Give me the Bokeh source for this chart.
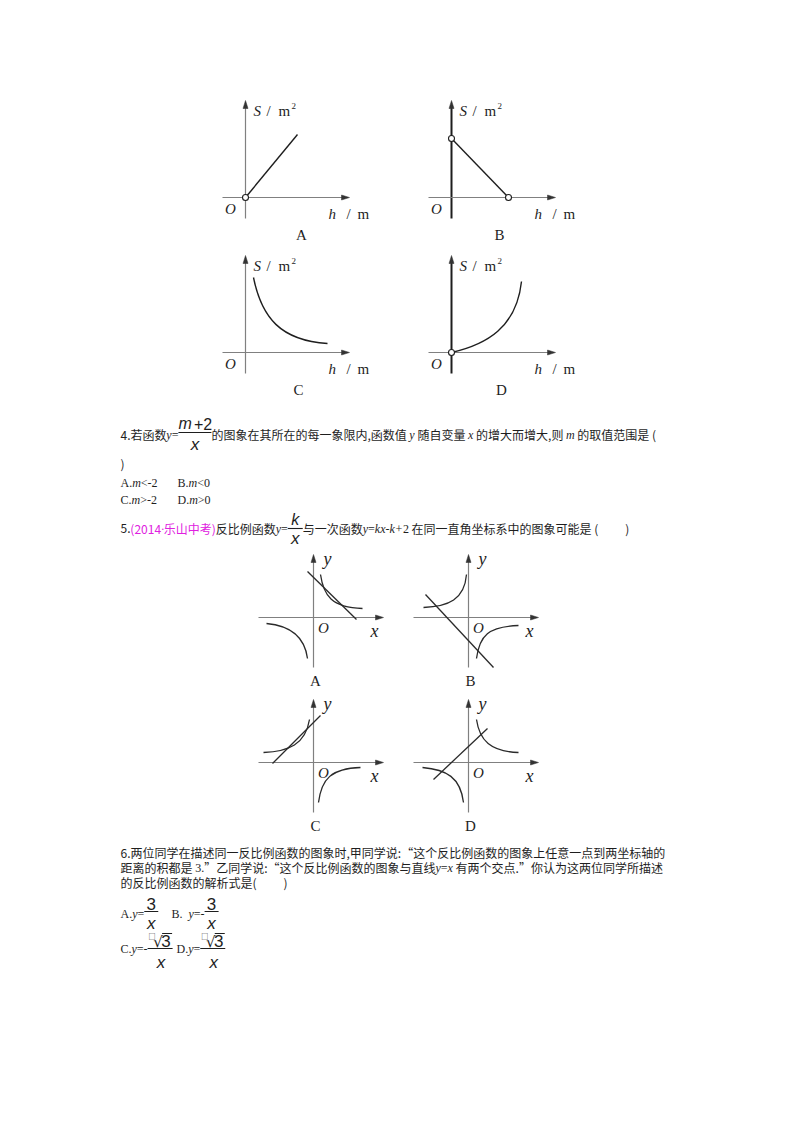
from bokeh.plotting import figure
from bokeh.models import ColumnDataSource, Range1d
from bokeh.embed import file_html
from bokeh.resources import INLINE

# Question 3: four small S/m^2 - h/m sketches
q3_letters = ["A", "B", "C", "D"]
q3_origin_x = [245, 451, 245, 451]
q3_origin_y = [197, 197, 352, 352]
q3_letter_dx = [56, 48, 53, 50]
q3_bold_y = [False, True, False, True]
q3A_line_x = [0, 52]
q3A_line_y = [0, 63]
q3A_open_x = [0]
q3A_open_y = [0]
q3B_line_x = [0, 57]
q3B_line_y = [59, 0]
q3B_open_x = [0, 57]
q3B_open_y = [59, 0]
q3C_curve = [(8, 75), (16, 35), (35, 12), (82, 9)]      # start, ctrl1, ctrl2, end
q3D_curve = [(0, 0), (35, 8), (65, 25), (70, 71)]
q3D_open_x = [0]
q3D_open_y = [0]

# Question 5: four hyperbola + line sketches
q5_letters = ["A", "B", "C", "D"]
q5_origin_x = [313, 468, 313, 468]
q5_origin_y = [617, 617, 762, 762]
q5_branches = {
    "A": [[(7, 43), (10, 22), (18, 10), (49, 9)], [(-47, -6), (-25, -8), (-9, -18), (-6, -41)]],
    "B": [[(-45, 10), (-20, 11), (-4, 18), (-2, 43)], [(8, -41), (11, -18), (20, -9), (50, -8)]],
    "C": [[(-50, 10), (-25, 11), (-8, 18), (-4, 43)], [(5, -40), (8, -16), (18, -6), (47, -5)]],
    "D": [[(8, 43), (11, 22), (22, 11), (50, 10)], [(-46, -5), (-22, -7), (-8, -15), (-5, -40)]],
}
q5_lines = {
    "A": [(-6, 46), (43, -2)],
    "B": [(-43, 23), (25, -50)],
    "C": [(-41, -1), (7, 47)],
    "D": [(-35, -17), (19, 34)],
}

# ---------------- styling ----------------
INK = "#1e1e1e"
AXIS_GRAY = "#808080"
MAGENTA = "#e020e0"
CJK = "Noto Sans CJK SC"
SERIF = "Liberation Serif"
SANS = "Liberation Sans"

p = figure(width=784, height=1116, x_range=Range1d(0, 784), y_range=Range1d(1116, 0),
           output_backend="svg", toolbar_location=None, x_axis_type=None, y_axis_type=None,
           min_border=0, outline_line_color=None,
           background_fill_color="white", border_fill_color="white")
p.grid.visible = False

T = dict(x=[], y=[], text=[], font=[], size=[], style=[], color=[], align=[])


def put(x, y, s, font=CJK, size=12, style="normal", color=INK, align="left"):
    T["x"].append(x)
    T["y"].append(y)
    T["text"].append(s)
    T["font"].append(font)
    T["size"].append(f"{size}px")
    T["style"].append(style)
    T["color"].append(color)
    T["align"].append(align)


CJK_LAT = {'.': 0.27, ',': 0.27, ':': 0.27, '(': 0.33, ')': 0.33, ' ': 0.224}
SER = {'A': 0.722, 'B': 0.667, 'C': 0.667, 'D': 0.722, '.': 0.25, '<': 0.564, '>': 0.564,
       '-': 0.333, '=': 0.564, '+': 0.564, ' ': 0.25, '·': 0.25}
ITA = {'y': 0.444, 'x': 0.444, 'm': 0.722, 'k': 0.444, '-': 0.333, '+': 0.675, ' ': 0.25}
KINDS = {'c': (CJK, 'normal', INK), 'cm': (CJK, 'normal', MAGENTA),
         'sm': (SERIF, 'normal', MAGENTA),
         's': (SERIF, 'normal', INK), 'v': (SERIF, 'italic', INK)}


def text_width(s, kind, size):
    w = 0.0
    for ch in s:
        if ord(ch) >= 0x2E80 or ch in '“”':
            w += size
        elif kind in ('c', 'cm'):
            w += size * CJK_LAT.get(ch, 0.55)
        elif kind in ('s', 'sm'):
            w += size * SER.get(ch, 0.5)
        else:
            w += size * ITA.get(ch, 0.5)
    return w


def layout(x, y, runs, size=12):
    marks = {}
    for r in runs:
        if r[0] == 'GAP':
            marks[r[2]] = (x, r[1])
            x += r[1]
            continue
        s, kind = r
        font, style, color = KINDS[kind]
        lead = len(s) - len(s.lstrip(' '))
        body = s.strip(' ')
        if body:
            put(x + text_width(' ' * lead, kind, size), y, body, font, size, style, color)
        x += text_width(s, kind, size)
    return marks


def arrow_up(tx, ty):
    return [tx, tx - 2.5, tx + 2.5], [ty, ty + 8, ty + 8]


def arrow_right(tx, ty):
    return [tx, tx - 8, tx - 8], [ty, ty - 2.5, ty + 2.5]


def bez(ox, oy, pts, **kw):
    (a, b), (c, d), (e, f), (g, h) = pts
    p.bezier(x0=[ox + a], y0=[oy - b], cx0=[ox + c], cy0=[oy - d],
             cx1=[ox + e], cy1=[oy - f], x1=[ox + g], y1=[oy - h], **kw)


heads_x, heads_y = [], []

# ---------------- Question 3 sketches ----------------
for i, L in enumerate(q3_letters):
    ox, oy = q3_origin_x[i], q3_origin_y[i]
    bold = q3_bold_y[i]
    p.segment(x0=[ox], y0=[oy + 21], x1=[ox], y1=[oy - 90],
              line_color=INK if bold else AXIS_GRAY, line_width=2 if bold else 1.2)
    p.segment(x0=[ox - 23], y0=[oy], x1=[ox + 98], y1=[oy], line_color=AXIS_GRAY, line_width=1.2)
    hx, hy = arrow_up(ox, oy - 97)
    heads_x.append(hx); heads_y.append(hy)
    hx, hy = arrow_right(ox + 104, oy)
    heads_x.append(hx); heads_y.append(hy)
    # labels
    put(ox + 8, oy - 87, "S", SERIF, 15, "italic")
    put(ox + 21, oy - 87, "/", SERIF, 15)
    put(ox + 33, oy - 87, "m", SERIF, 15)
    put(ox + 46, oy - 92, "2", SERIF, 9)
    put(ox - 15, oy + 11, "O", SERIF, 15, "italic", align="center")
    put(ox + 83, oy + 16, "h", SERIF, 15, "italic")
    put(ox + 101, oy + 16, "/", SERIF, 15)
    put(ox + 112, oy + 16, "m", SERIF, 15)
    put(ox + q3_letter_dx[i], oy + 37, L, SERIF, 15, align="center")

oxA, oyA = q3_origin_x[0], q3_origin_y[0]
p.line([oxA + v for v in q3A_line_x], [oyA - v for v in q3A_line_y], line_color=INK, line_width=1.4)
oxB, oyB = q3_origin_x[1], q3_origin_y[1]
p.line([oxB + v for v in q3B_line_x], [oyB - v for v in q3B_line_y], line_color=INK, line_width=1.4)
bez(q3_origin_x[2], q3_origin_y[2], q3C_curve, line_color=INK, line_width=1.4)
bez(q3_origin_x[3], q3_origin_y[3], q3D_curve, line_color=INK, line_width=1.4)

open_x = [oxA + v for v in q3A_open_x] + [oxB + v for v in q3B_open_x] + \
         [q3_origin_x[3] + v for v in q3D_open_x]
open_y = [oyA - v for v in q3A_open_y] + [oyB - v for v in q3B_open_y] + \
         [q3_origin_y[3] - v for v in q3D_open_y]

# ---------------- Question 5 sketches ----------------
for i, L in enumerate(q5_letters):
    ox, oy = q5_origin_x[i], q5_origin_y[i]
    p.segment(x0=[ox], y0=[oy + 50], x1=[ox], y1=[oy - 56], line_color=AXIS_GRAY, line_width=1.2)
    p.segment(x0=[ox - 55], y0=[oy], x1=[ox + 64], y1=[oy], line_color=AXIS_GRAY, line_width=1.2)
    hx, hy = arrow_up(ox, oy - 63)
    heads_x.append(hx); heads_y.append(hy)
    hx, hy = arrow_right(ox + 70, oy)
    heads_x.append(hx); heads_y.append(hy)
    for br in q5_branches[L]:
        bez(ox, oy, br, line_color="#2a2a2a", line_width=1.3)
    (a, b), (c, d) = q5_lines[L]
    p.line([ox + a, ox + c], [oy - b, oy - d], line_color="#2a2a2a", line_width=1.3)
    put(ox + 14, oy - 59, "y", SERIF, 18, "italic", align="center")
    put(ox + 10, oy + 10, "O", SERIF, 15, "italic", align="center")
    put(ox + 61, oy + 13, "x", SERIF, 18, "italic", align="center")
    put(ox + 2, oy + 63, L, SERIF, 15, align="center")

p.patches(heads_x, heads_y, fill_color="#333333", line_color="#333333", line_width=0.5)
p.scatter(open_x, open_y, size=6, marker="circle", fill_color="white", line_color=INK, line_width=1.1)

# ---------------- Question 4 ----------------
bars = dict(x0=[], x1=[], y=[])


def frac_bar(x0, w, y):
    bars["x0"].append(x0)
    bars["x1"].append(x0 + w)
    bars["y"].append(y)


m4 = layout(120, 434, [("4.若函数", 'c'), ("y", 'v'), ("=", 's'), ('GAP', 33, 'f'),
                        ("的图象在其所在的每一象限内,函数值 ", 'c'), ("y", 'v'), (" 随自变量 ", 'c'),
                        ("x", 'v'), (" 的增大而增大,则 ", 'c'), ("m", 'v'), (" 的取值范围是 (", 'c')])
fx, fw = m4['f']
cx = fx + fw / 2
frac_bar(fx, fw, 432)
put(cx - 3, 423, "m", SANS, 16, "italic", align="right")
put(cx - 1, 423, "+2", SANS, 16)
put(cx, 444, "x", SANS, 17, "italic", align="center")
put(120, 463, ")", CJK, 12)
layout(120, 482, [("A.", 's'), ("m", 'v'), ("<-2", 's')])
layout(177, 482, [("B.", 's'), ("m", 'v'), ("<0", 's')])
layout(120, 499, [("C.", 's'), ("m", 'v'), (">-2", 's')])
layout(177, 499, [("D.", 's'), ("m", 'v'), (">0", 's')])

# ---------------- Question 5 text ----------------
m5 = layout(120, 528, [("5.", 'c'), ("(2014", 'cm'), ("·", 'sm'), ("乐山中考)", 'cm'),
                        ("反比例函数", 'c'), ("y", 'v'), ("=", 's'),
                        ('GAP', 15, 'f'), ("与一次函数", 'c'), ("y", 'v'), ("=", 's'), ("kx-k+", 'v'),
                        ("2", 's'), (" 在同一直角坐标系中的图象可能是 (", 'c'), ('GAP', 27, 'g'), (")", 'c')])
fx, fw = m5['f']
cx = fx + fw / 2
frac_bar(fx, fw, 528)
put(cx, 519, "k", SANS, 16, "italic", align="center")
put(cx, 538, "x", SANS, 17, "italic", align="center")

# ---------------- Question 6 text ----------------
layout(120, 852, [("6.两位同学在描述同一反比例函数的图象时,甲同学说:“这个反比例函数的图象上任意一点到两坐标轴的", 'c')])
layout(120, 867, [("距离的积都是 ", 'c'), ("3.", 's'), ("”乙同学说:“这个反比例函数的图象与直线", 'c'),
                  ("y", 'v'), ("=", 's'), ("x", 'v'), (" 有两个交点.”你认为这两位同学所描述", 'c')])
layout(120, 882, [("的反比例函数的解析式是(", 'c'), ('GAP', 27, 'g'), (")", 'c')])

mA = layout(120, 913, [("A.", 's'), ("y", 'v'), ("=", 's'), ('GAP', 14, 'f')])
mB = layout(171, 913, [("B.", 's'), ("  y", 'v'), ("=-", 's'), ('GAP', 14, 'f')])
for mk in (mA, mB):
    fx, fw = mk['f']
    cx = fx + fw / 2
    frac_bar(fx, fw, 911)
    put(cx, 903, "3", SANS, 17, align="center")
    put(cx, 923, "x", SANS, 17, "italic", align="center")

mC = layout(120, 948, [("C.", 's'), ("y", 'v'), ("=-", 's'), ('GAP', 25, 'f')])
mD = layout(176, 948, [("D.", 's'), ("y", 'v'), ("=", 's'), ('GAP', 25, 'f')])
over = dict(x0=[], x1=[], y=[])
for mk in (mC, mD):
    fx, fw = mk['f']
    cx = fx + fw / 2
    frac_bar(fx, fw, 948)
    put(cx - 8, 935, "□", CJK, 7, align="center")
    put(cx - 2, 941, "√", "DejaVu Sans", 15, align="center")
    put(cx + 6, 940, "3", SANS, 17, align="center")
    over["x0"].append(cx + 2)
    over["x1"].append(cx + 12)
    over["y"].append(933)
    put(cx + 1, 962, "x", SANS, 17, "italic", align="center")

p.segment(x0="x0", y0="y", x1="x1", y1="y", source=ColumnDataSource(bars), line_color=INK, line_width=1.1)
p.segment(x0="x0", y0="y", x1="x1", y1="y", source=ColumnDataSource(over), line_color=INK, line_width=1.0)

p.text(x="x", y="y", text="text", source=ColumnDataSource(T), text_font="font", text_font_size="size",
       text_font_style="style", text_color="color", text_align="align", text_baseline="middle")

open("out.html", "w").write(file_html(p, INLINE))
